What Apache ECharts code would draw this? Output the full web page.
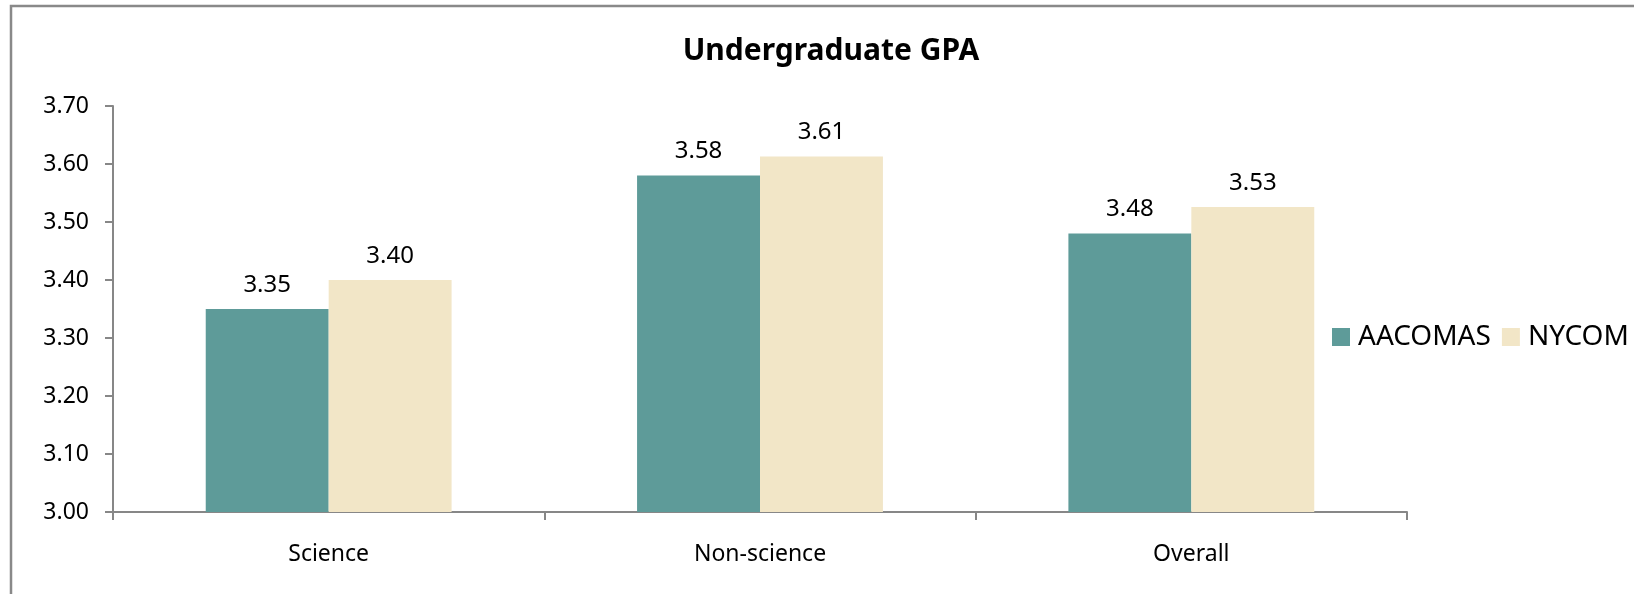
<!DOCTYPE html>
<html>
<head>
<meta charset="utf-8">
<script src="https://cdn.jsdelivr.net/npm/echarts@6/dist/echarts.min.js"></script>
<style>
html,body{margin:0;padding:0;background:#fff;}
#chart{width:1634px;height:594px;}
</style>
</head>
<body>
<div id="chart"></div>
<script>
var categories = ['Science', 'Non-science', 'Overall'];
var aacomas = [3.35, 3.58, 3.48];
var nycom = [3.40, 3.613, 3.526];
var yTicks = { min: 3.0, max: 3.7, interval: 0.1 };

var chart = echarts.init(document.getElementById('chart'), null, { renderer: 'canvas' });
var font = '"Noto Sans", "Open Sans", sans-serif';
var axisColor = '#878787';
var labelFmt = function (p) { return p.value.toFixed(2); };

chart.setOption({
  animation: false,
  backgroundColor: '#fff',
  textStyle: { fontFamily: font },
  graphic: [{
    type: 'rect',
    shape: { x: 11, y: 6, width: 1700, height: 700 },
    style: { fill: 'none', stroke: '#898989', lineWidth: 2.5 },
    silent: true
  }],
  title: {
    text: 'Undergraduate GPA',
    left: 826, top: 31, textAlign: 'center',
    textStyle: { fontFamily: font, fontWeight: 'bold', fontSize: 30, color: '#000' }
  },
  legend: {
    left: 1327, top: 318,
    itemWidth: 18, itemHeight: 18, itemGap: 11,
    icon: 'rect',
    textStyle: { fontFamily: font, fontSize: 28, color: '#000', padding: [0, 0, 0, 3] },
    data: ['AACOMAS', 'NYCOM']
  },
  grid: { left: 113, right: 227, top: 106, bottom: 82, containLabel: false },
  xAxis: {
    type: 'category',
    data: categories,
    axisLine: { show: true, lineStyle: { color: axisColor, width: 2 } },
    axisTick: { show: true, length: 8, lineStyle: { color: axisColor, width: 2 } },
    axisLabel: { fontFamily: font, fontSize: 23, color: '#000', margin: 31 },
    splitLine: { show: false }
  },
  yAxis: {
    type: 'value',
    min: yTicks.min, max: yTicks.max, interval: yTicks.interval,
    axisLine: { show: true, lineStyle: { color: axisColor, width: 2 } },
    axisTick: { show: true, length: 8, lineStyle: { color: axisColor, width: 2 } },
    axisLabel: { fontFamily: font, fontSize: 23, color: '#000', margin: 24,
      formatter: function (v) { return v.toFixed(2); } },
    splitLine: { show: false }
  },
  series: [{
    name: 'AACOMAS', type: 'bar', data: aacomas,
    barGap: '0%', barCategoryGap: '43%',
    itemStyle: { color: '#5E9B99' },
    label: { show: true, position: 'top', distance: 12, fontFamily: font, fontSize: 24, color: '#000', formatter: labelFmt }
  }, {
    name: 'NYCOM', type: 'bar', data: nycom,
    barGap: '0%', barCategoryGap: '43%',
    itemStyle: { color: '#F2E6C7' },
    label: { show: true, position: 'top', distance: 12, fontFamily: font, fontSize: 24, color: '#000', formatter: labelFmt }
  }]
});
</script>
</body>
</html>
